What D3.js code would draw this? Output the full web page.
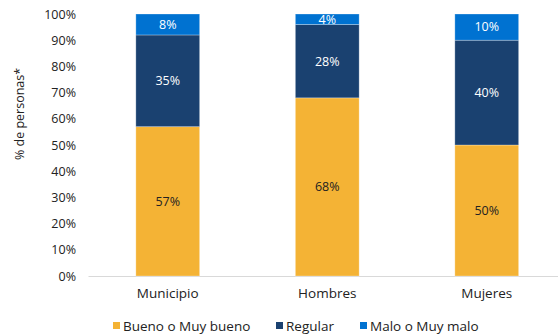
<!DOCTYPE html>
<html><head><meta charset="utf-8">
<script src="https://cdn.jsdelivr.net/npm/d3@7"></script>
<style>body{margin:0;background:#fff}svg{display:block}text{font-family:"Open Sans",sans-serif}</style>
</head><body><svg id="c" width="558" height="334"></svg>
<script>
const categories = ["Municipio", "Hombres", "Mujeres"];
const seriesNames = ["Bueno o Muy bueno", "Regular", "Malo o Muy malo"];
const bueno = [57, 68, 50];
const regular = [35, 28, 40];
const malo = [8, 4, 10];
const yTicks = [0,10,20,30,40,50,60,70,80,90,100];
const colors = ["#F4B335", "#1A4170", "#0072D1"];
const labelColors = ["#222", "#fff", "#fff"];

const svg = d3.select("#c");
const x = d3.scaleBand().domain(categories).range([88, 566.5]).paddingInner(0.6).paddingOuter(0.3);
const y = d3.scaleLinear().domain([0, 100]).range([276, 14]);

const rows = categories.map((c, i) => ({cat: c, s0: bueno[i], s1: regular[i], s2: malo[i]}));
const stack = d3.stack().keys(["s0","s1","s2"])(rows);

const ya = svg.append("g").attr("transform","translate(76,0)")
  .call(d3.axisLeft(y).tickValues(yTicks).tickFormat(d => d + "%").tickSize(0).tickPadding(0));
ya.select(".domain").remove();
ya.selectAll("text").attr("font-size", 12.5).attr("fill", "#222").style("font-family","'Open Sans',sans-serif");

const xa = svg.append("g").attr("transform","translate(0,276)")
  .call(d3.axisBottom(x).tickSize(0).tickPadding(12));
xa.select(".domain").attr("stroke","#d9d9d9").attr("stroke-width",1.2);
xa.selectAll("text").attr("font-size", 13.5).attr("fill", "#222").style("font-family","'Open Sans',sans-serif");

stack.forEach((layer, li) => {
  const g = svg.append("g");
  g.selectAll("rect").data(layer).join("rect")
    .attr("x", d => x(d.data.cat))
    .attr("width", x.bandwidth())
    .attr("y", d => y(d[1]))
    .attr("height", d => y(d[0]) - y(d[1]))
    .attr("fill", colors[li])
    .attr("stroke", "rgba(255,255,255,0.35)").attr("stroke-width", 0.8);
  g.selectAll("text").data(layer).join("text")
    .attr("x", d => x(d.data.cat) + x.bandwidth()/2)
    .attr("y", d => (y(d[0]) + y(d[1]))/2)
    .attr("dy", "0.35em")
    .attr("text-anchor", "middle")
    .attr("font-size", 12.5)
    .attr("fill", labelColors[li])
    .text(d => (d[1]-d[0]) + "%");
});

svg.append("text").attr("transform","translate(24,114) rotate(-90)")
  .attr("text-anchor","middle").attr("font-size",12.5).attr("fill","#222").text("% de personas*");

const legX = [113, 276, 360];
seriesNames.forEach((n, i) => {
  svg.append("rect").attr("x", legX[i]).attr("y", 322).attr("width", 7).attr("height", 7).attr("fill", colors[i]);
  svg.append("text").attr("x", legX[i] + 10).attr("y", 326).attr("dy","0.35em").attr("font-size", 13.5).attr("fill","#222").text(n);
});
</script></body></html>
